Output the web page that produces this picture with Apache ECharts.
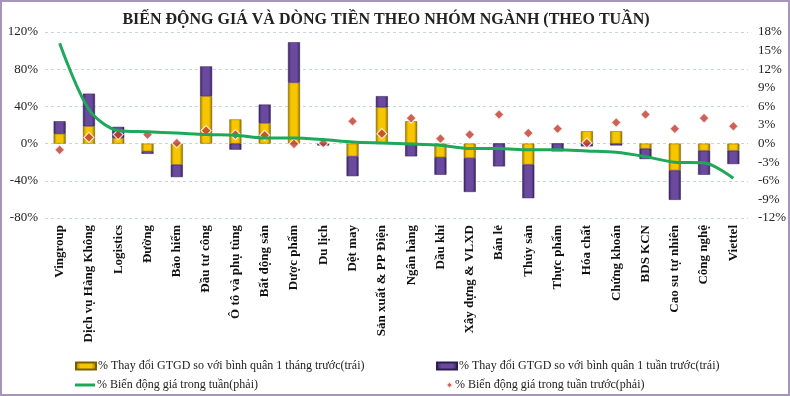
<!DOCTYPE html>
<html>
<head>
<meta charset="utf-8">
<script src="https://cdn.jsdelivr.net/npm/echarts@6/dist/echarts.min.js"></script>
<style>
html,body{margin:0;padding:0;background:#fff;}
#chart{width:790px;height:396px;}
</style>
</head>
<body>
<div id="chart"></div>
<script>
var categories = ['Vingroup', 'Dịch vụ Hàng Không', 'Logistics', 'Đường', 'Bảo hiểm', 'Đầu tư công',
    'Ô tô và phụ tùng', 'Bất động sản', 'Dược phẩm', 'Du lịch', 'Dệt may', 'Sản xuất & PP Điện',
    'Ngân hàng', 'Dầu khí', 'Xây dựng & VLXD', 'Bán lẻ', 'Thủy sản', 'Thực phẩm', 'Hóa chất',
    'Chứng khoán', 'BDS KCN', 'Cao su tự nhiên', 'Công nghệ', 'Viettel'];
// % thay doi GTGD so voi binh quan 1 thang truoc (trai)
var monthChange = [10.5, 18.7, 6, -8.3, -22.7, 51, 26, 22, 65.6, -0.5, -13.7, 39,
    24, -14.7, -15.5, 0, -22.5, 0, 13.3, 13.3, -5.4, -28.8, -7.6, -7.6];
// % thay doi GTGD so voi binh quan 1 tuan truoc (trai)
var weekChange = [13.5, 35, 12, -2.7, -13.3, 32, -6.5, 20, 43.4, -1.5, -21.3, 12,
    -13.7, -18.8, -36.5, -24.5, -36.2, -8.3, -3, -2, -11.2, -31.7, -25.9, -14.4];
// % bien dong gia trong tuan (phai)
var priceWeek = [16.2, 5.5, 2.1, 1.9, 1.7, 1.45, 1.35, 0.9, 0.9, 0.65, 0.27, 0.1,
    -0.05, -0.27, -0.8, -0.8, -1.0, -1.0, -1.2, -1.4, -2.1, -3.0, -3.1, -5.6];
// % bien dong gia trong tuan truoc (phai)
var pricePrevWeek = [-1, 1.0, 1.45, 1.45, 0.1, 2.1, 1.45, 1.35, -0.05, 0.1, 3.6, 1.6,
    4.1, 0.8, 1.45, 4.7, 1.7, 2.4, 0.1, 3.4, 4.7, 2.4, 4.1, 2.8];

var leftTicks = [-80, 120, 40];
var rightTicks = [-12, 18, 3];

var serif = '"Liberation Serif", "Times New Roman", serif';
var names = [
    '% Thay đổi GTGD so với bình quân 1 tháng trước(trái)',
    '% Thay đổi GTGD so với bình quân 1 tuần trước(trái)',
    '% Biến động giá trong tuần(phải)',
    '% Biến động giá trong tuần trước(phải)'
];

function bevel(c1, c2, c3) {
    return new echarts.graphic.LinearGradient(0, 0, 1, 0, [
        {offset: 0, color: c1},
        {offset: 0.25, color: c2},
        {offset: 0.75, color: c2},
        {offset: 1, color: c3}
    ]);
}

var yellow = bevel('#9c7a00', '#f7c600', '#8a6a00');
var purple = bevel('#3b2463', '#6a4a9e', '#342058');

var myChart = echarts.init(document.getElementById('chart'));

function legendItem(name, left, top, icon, w, h) {
    return {
        data: [name],
        left: left,
        top: top,
        icon: icon,
        itemWidth: w,
        itemHeight: h,
        itemGap: 0,
        selectedMode: false,
        textStyle: {fontFamily: serif, fontSize: 12, color: '#222', padding: [0, 0, 0, -3]}
    };
}

var option = {
    backgroundColor: '#FFFFFF',
    animation: false,
    title: {
        text: 'BIẾN ĐỘNG GIÁ VÀ DÒNG TIỀN THEO NHÓM NGÀNH (THEO TUẦN)',
        left: 381,
        textAlign: 'center',
        top: 7,
        textStyle: {fontFamily: serif, fontSize: 16, fontWeight: 'bold', color: '#222'}
    },
    graphic: [{
        type: 'rect',
        shape: {x: 1, y: 1, width: 788, height: 394},
        style: {fill: 'none', stroke: '#a794bb', lineWidth: 2},
        silent: true
    }],
    legend: [
        legendItem(names[0], 70, 355, 'rect', 20, 7),
        legendItem(names[1], 431, 355, 'rect', 20, 7),
        legendItem(names[2], 70, 374, 'rect', 20, 3),
        legendItem(names[3], 440, 374, 'diamond', 7, 7)
    ],
    grid: {left: 45, right: 42, top: 32, bottom: 178},
    xAxis: {
        type: 'category',
        data: categories,
        axisLine: {show: false},
        axisTick: {show: false},
        axisLabel: {
            rotate: 90,
            interval: 0,
            margin: 7,
            fontFamily: serif,
            fontSize: 13,
            fontWeight: 'bold',
            color: '#111'
        }
    },
    yAxis: [{
        type: 'value',
        min: leftTicks[0],
        max: leftTicks[1],
        interval: leftTicks[2],
        axisLine: {show: false},
        axisTick: {show: false},
        axisLabel: {
            formatter: '{value}%',
            fontFamily: serif,
            fontSize: 13,
            color: '#222',
            margin: 7
        },
        splitLine: {lineStyle: {color: '#c9d3df', type: [3, 3], width: 1}}
    }, {
        type: 'value',
        min: rightTicks[0],
        max: rightTicks[1],
        interval: rightTicks[2],
        axisLine: {show: false},
        axisTick: {show: false},
        axisLabel: {
            formatter: '{value}%',
            fontFamily: serif,
            fontSize: 13,
            color: '#222',
            margin: 10
        },
        splitLine: {show: false}
    }],
    series: [{
        name: names[0],
        type: 'bar',
        stack: 'gtgd',
        barWidth: 12,
        itemStyle: {color: yellow, borderColor: '#7a5e00', borderWidth: 0.5},
        data: monthChange
    }, {
        name: names[1],
        type: 'bar',
        stack: 'gtgd',
        barWidth: 12,
        itemStyle: {color: purple, borderColor: '#2e1b4f', borderWidth: 0.5},
        data: weekChange
    }, {
        name: names[2],
        type: 'line',
        yAxisIndex: 1,
        smooth: 0.3,
        symbol: 'none',
        lineStyle: {color: '#1ea85a', width: 3},
        itemStyle: {color: '#1ea85a'},
        data: priceWeek
    }, {
        name: names[3],
        type: 'scatter',
        yAxisIndex: 1,
        symbol: 'diamond',
        symbolSize: 10,
        itemStyle: {color: '#c0392b', borderColor: '#fff', borderWidth: 1.2},
        data: pricePrevWeek
    }]
};
myChart.setOption(option);
</script>
</body>
</html>
